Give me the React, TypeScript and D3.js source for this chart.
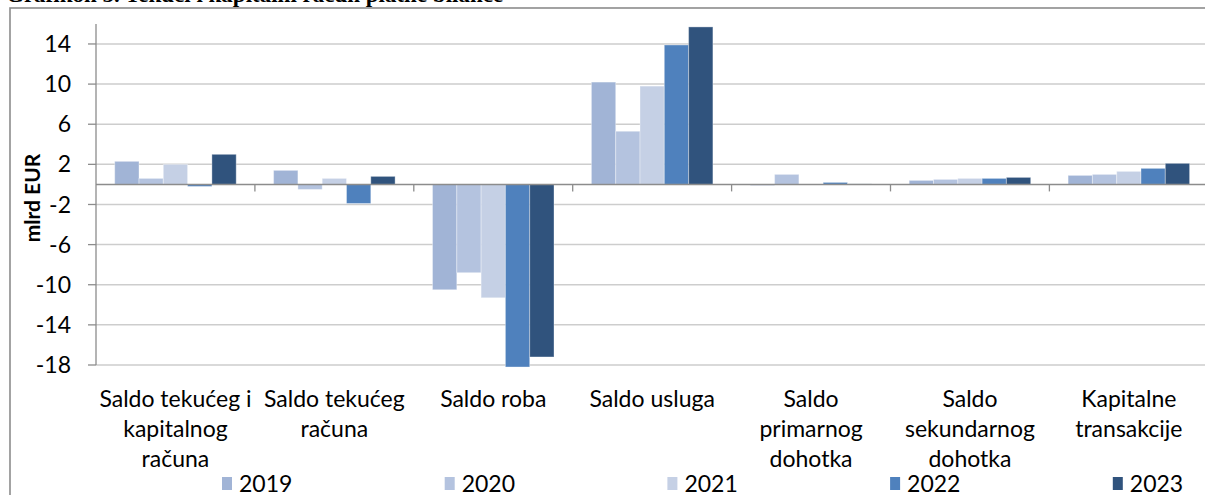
import React from "react";
import * as d3 from "d3";

const categories = [
  "Saldo tekućeg i\nkapitalnog\nračuna",
  "Saldo tekućeg\nračuna",
  "Saldo roba",
  "Saldo usluga",
  "Saldo\nprimarnog\ndohotka",
  "Saldo\nsekundarnog\ndohotka",
  "Kapitalne\ntransakcije",
];
const years = ["2019", "2020", "2021", "2022", "2023"];
const s2019 = [2.3, 1.4, -10.5, 10.2, -0.1, 0.4, 0.9];
const s2020 = [0.6, -0.5, -8.8, 5.3, 1.0, 0.5, 1.0];
const s2021 = [2.0, 0.6, -11.3, 9.8, 0.0, 0.6, 1.3];
const s2022 = [-0.2, -1.9, -18.2, 13.9, 0.2, 0.6, 1.6];
const s2023 = [3.0, 0.8, -17.2, 15.7, 0.05, 0.7, 2.1];
const seriesValues = [s2019, s2020, s2021, s2022, s2023];
const colors = ["#A1B4D6", "#B4C3DF", "#C5D0E5", "#4F81BD", "#30537D"];
const yTicks = [-18, -14, -10, -6, -2, 2, 6, 10, 14];
const title = "Grafikon 5. Tekući i kapitalni račun platne bilance";
const yTitle = "mlrd EUR";

const FONT = "Lato, 'Open Sans', sans-serif";

export default function App() {
  const W = 1205, H = 495;
  const plotLeft = 96, plotRight = 1208.3;
  const y = d3.scaleLinear().domain([-18, 16]).range([365, 23.9]);
  const x0 = d3.scaleBand<string>().domain(categories).range([plotLeft, plotRight]).paddingInner(0).paddingOuter(0);
  const step = x0.bandwidth();
  const x1 = d3.scaleBand<string>().domain(years).range([step * 0.1177, step * (1 - 0.1177)]).padding(0);
  const zeroY = y(0);

  return (
    <svg width={W} height={H} style={{ position: "absolute", left: 0, top: 0 }} fontFamily={FONT}>
      <rect x={0} y={0} width={W} height={H} fill="#fff" />
      <text x={6} y={1.5} fontFamily="'Liberation Serif', serif" fontWeight="bold" fontSize={23} fill="#000">{title}</text>
      {/* chart border */}
      <rect x={10} y={8} width={W} height={H} fill="none" stroke="#8c8c8c" strokeWidth={1.6} />
      {/* gridlines */}
      {yTicks.map((t) => (
        <line key={"g" + t} x1={plotLeft} x2={plotRight} y1={y(t)} y2={y(t)} stroke="#cdcdcd" strokeWidth={1.5} />
      ))}
      {/* y axis */}
      <line x1={plotLeft} x2={plotLeft} y1={y(16)} y2={y(-18)} stroke="#8c8c8c" strokeWidth={1.3} />
      {yTicks.map((t) => (
        <g key={"t" + t}>
          <line x1={plotLeft - 8} x2={plotLeft} y1={y(t)} y2={y(t)} stroke="#8c8c8c" strokeWidth={1.3} />
          <text x={71} y={y(t)} dy="0.35em" textAnchor="end" fontSize={23} fill="#000">{t}</text>
        </g>
      ))}
      <text transform={`translate(40,${198}) rotate(-90)`} textAnchor="middle" fontSize={21} fontWeight="bold" fill="#000">{yTitle}</text>
      {/* bars */}
      {categories.map((c, ci) => (
        <g key={c} transform={`translate(${x0(c)},0)`}>
          {years.map((yr, si) => {
            const v = seriesValues[si][ci];
            const top = Math.min(y(v), zeroY);
            const h = Math.abs(y(v) - zeroY);
            return (
              <rect key={yr} x={x1(yr)} y={top} width={x1.bandwidth()} height={h} fill={colors[si]} stroke="#ffffff" strokeOpacity={0.35} strokeWidth={1} />
            );
          })}
        </g>
      ))}
      {/* zero axis */}
      <line x1={plotLeft} x2={plotRight} y1={zeroY} y2={zeroY} stroke="#8c8c8c" strokeWidth={1.5} />
      {categories.map((c, i) => (
        <line key={"ct" + i} x1={(x0(c) as number) + step} x2={(x0(c) as number) + step} y1={zeroY} y2={zeroY + 7} stroke="#8c8c8c" strokeWidth={1.3} />
      ))}
      {/* category labels */}
      {categories.map((c) => (
        <text key={"l" + c} textAnchor="middle" fontSize={23} fill="#000">
          {c.split("\n").map((ln, li) => (
            <tspan key={li} x={(x0(c) as number) + step / 2} y={407 + li * 30}>{ln}</tspan>
          ))}
        </text>
      ))}
      {/* legend */}
      {years.map((yr, i) => {
        const lx = 222 + i * 222.7;
        return (
          <g key={"lg" + yr}>
            <rect x={lx} y={477} width={10} height={13} fill={colors[i]} />
            <text x={lx + 17} y={492} fontSize={23} fill="#000">{yr}</text>
          </g>
        );
      })}
    </svg>
  );
}
